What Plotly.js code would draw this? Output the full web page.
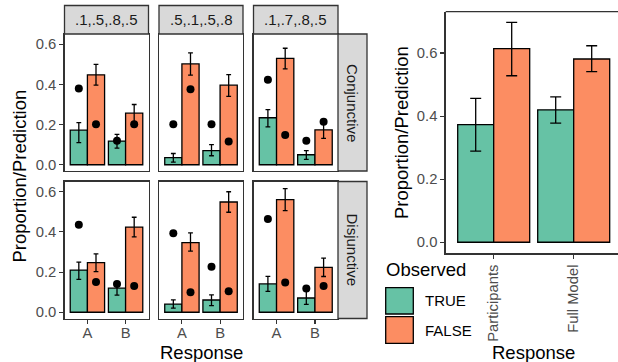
<!DOCTYPE html>
<html>
<head>
<meta charset="utf-8">
<script src="https://cdn.plot.ly/plotly-3.0.1.min.js"></script>
<style>html,body{margin:0;padding:0;background:#fff;}#chart{width:618px;height:362px;}</style>
</head>
<body>
<div id="chart"></div>
<script>
// ---------------- data ----------------
const conditions = ['.1,.5,.8,.5', '.5,.1,.5,.8', '.1,.7,.8,.5'];
const rules = ['Conjunctive', 'Disjunctive'];
const responses = ['A', 'B'];
const observedLevels = ['TRUE', 'FALSE'];

// Conjunctive: per condition [A, B]
const conjTrueMean  = [[0.172, 0.118], [0.036, 0.070], [0.234, 0.050]];
const conjTrueLo    = [[0.110, 0.083], [0.013, 0.045], [0.189, 0.027]];
const conjTrueHi    = [[0.210, 0.151], [0.056, 0.100], [0.275, 0.070]];
const conjTrueModel = [[0.380, 0.119], [0.202, 0.202], [0.423, 0.119]];
const conjFalseMean  = [[0.448, 0.257], [0.502, 0.396], [0.530, 0.174]];
const conjFalseLo    = [[0.396, 0.210], [0.446, 0.340], [0.477, 0.131]];
const conjFalseHi    = [[0.500, 0.300], [0.557, 0.449], [0.580, 0.219]];
const conjFalseModel = [[0.202, 0.202], [0.376, 0.116], [0.148, 0.214]];

// Disjunctive: per condition [A, B]
const disjTrueMean  = [[0.210, 0.120], [0.041, 0.061], [0.141, 0.071]];
const disjTrueLo    = [[0.164, 0.085], [0.021, 0.033], [0.104, 0.039]];
const disjTrueHi    = [[0.250, 0.153], [0.062, 0.087], [0.179, 0.105]];
const disjTrueModel = [[0.436, 0.141], [0.393, 0.227], [0.464, 0.118]];
const disjFalseMean  = [[0.247, 0.424], [0.347, 0.549], [0.561, 0.224]];
const disjFalseLo    = [[0.202, 0.375], [0.304, 0.498], [0.506, 0.178]];
const disjFalseHi    = [[0.291, 0.473], [0.395, 0.600], [0.616, 0.270]];
const disjFalseModel = [[0.151, 0.131], [0.100, 0.105], [0.148, 0.131]];

// Summary panel
const summaryGroups = ['Participants', 'Full Model'];
const summaryTrueMean  = [0.373, 0.420];
const summaryTrueLo    = [0.289, 0.378];
const summaryTrueHi    = [0.456, 0.461];
const summaryFalseMean = [0.614, 0.581];
const summaryFalseLo   = [0.528, 0.541];
const summaryFalseHi   = [0.697, 0.623];

const yTicks = [0, 0.2, 0.4, 0.6];

// ---------------- style / layout helpers ----------------
const W = 618, H = 362;
const FONT = 'Liberation Sans, Arial, sans-serif';
const GREEN = '#66C2A5', ORANGE = '#FC8D62';
const BORDER = '#333333';
const px = v => v / W;
const py = v => 1 - v / H;

const colX = [[64.5, 148.5], [159, 243], [253.5, 338]];
const rowY = [[34, 171], [181.5, 318.5]];
const stripTop = [5.5, 34];
const stripRight = [338, 367];

const traces = [];
const layout = {
  width: W, height: H,
  margin: {l: 0, r: 0, t: 0, b: 0},
  paper_bgcolor: '#fff', plot_bgcolor: '#fff',
  showlegend: false,
  barmode: 'overlay',
  font: {family: FONT, color: '#000'},
  shapes: [], annotations: []
};

const ruleData = [
  {tm: conjTrueMean, tl: conjTrueLo, th: conjTrueHi, tmod: conjTrueModel,
   fm: conjFalseMean, fl: conjFalseLo, fh: conjFalseHi, fmod: conjFalseModel},
  {tm: disjTrueMean, tl: disjTrueLo, th: disjTrueHi, tmod: disjTrueModel,
   fm: disjFalseMean, fl: disjFalseLo, fh: disjFalseHi, fmod: disjFalseModel}
];

const HALF = 0.225, BW = 0.45;

function addBars(xa, ya, pos, mean, lo, hi, color, capW) {
  traces.push({
    type: 'bar', x: pos, y: mean, width: BW, xaxis: xa, yaxis: ya,
    marker: {color: color, line: {color: '#000', width: 1.3}},
    error_y: {type: 'data', symmetric: false,
      array: mean.map((m, i) => hi[i] - m),
      arrayminus: mean.map((m, i) => m - lo[i]),
      color: '#000', thickness: 1.3, width: capW},
    hoverinfo: 'skip'
  });
}

rules.forEach((rule, r) => {
  const d = ruleData[r];
  conditions.forEach((cond, c) => {
    const n = r * 3 + c + 1;
    const xa = n === 1 ? 'x' : 'x' + n;
    const ya = n === 1 ? 'y' : 'y' + n;
    const idx = responses.map((_, i) => i + 1);
    const posT = idx.map(i => i - HALF);
    const posF = idx.map(i => i + HALF);
    addBars(xa, ya, posT, d.tm[c], d.tl[c], d.th[c], GREEN, 2.4);
    addBars(xa, ya, posF, d.fm[c], d.fl[c], d.fh[c], ORANGE, 2.4);
    traces.push({type: 'scatter', mode: 'markers', x: posT.concat(posF),
      y: d.tmod[c].concat(d.fmod[c]), xaxis: xa, yaxis: ya,
      marker: {color: '#000', size: 8}, hoverinfo: 'skip'});

    const bottom = r === 1, left = c === 0;
    layout['xaxis' + (n === 1 ? '' : n)] = {
      domain: [px(colX[c][0]), px(colX[c][1])], anchor: ya,
      range: [0.4, 2.6], showgrid: false, zeroline: false,
      showline: true, mirror: true, linecolor: BORDER, linewidth: 1.3,
      tickvals: idx, ticktext: responses,
      ticks: bottom ? 'outside' : '', ticklen: 4, tickcolor: BORDER, tickwidth: 1.1,
      showticklabels: bottom, ticklabelstandoff: -4,
      tickfont: {family: FONT, size: 14.8, color: '#4D4D4D'}
    };
    layout['yaxis' + (n === 1 ? '' : n)] = {
      domain: [py(rowY[r][1]), py(rowY[r][0])], anchor: xa,
      range: [-0.031, 0.651], showgrid: false, zeroline: false,
      showline: true, mirror: true, linecolor: BORDER, linewidth: 1.3,
      tickvals: yTicks, tickformat: '.1f',
      ticks: left ? 'outside' : '', ticklen: 4, tickcolor: BORDER, tickwidth: 1.1,
      showticklabels: left,
      tickfont: {family: FONT, size: 14.8, color: '#4D4D4D'}
    };
  });
});

// top strips
conditions.forEach((cond, c) => {
  layout.shapes.push({type: 'rect', xref: 'paper', yref: 'paper',
    x0: px(colX[c][0]), x1: px(colX[c][1]), y0: py(stripTop[1]), y1: py(stripTop[0]),
    fillcolor: '#D9D9D9', line: {color: BORDER, width: 1.3}, layer: 'above'});
  layout.annotations.push({xref: 'paper', yref: 'paper',
    x: px((colX[c][0] + colX[c][1]) / 2), y: py((stripTop[0] + stripTop[1]) / 2),
    text: cond, showarrow: false, xanchor: 'center', yanchor: 'middle',
    font: {family: FONT, size: 15, color: '#1A1A1A'}});
});
// right strips
rules.forEach((rule, r) => {
  layout.shapes.push({type: 'rect', xref: 'paper', yref: 'paper',
    x0: px(stripRight[0]), x1: px(stripRight[1]), y0: py(rowY[r][1]), y1: py(rowY[r][0]),
    fillcolor: '#D9D9D9', line: {color: BORDER, width: 1.3}, layer: 'above'});
  layout.annotations.push({xref: 'paper', yref: 'paper',
    x: px((stripRight[0] + stripRight[1]) / 2), y: py((rowY[r][0] + rowY[r][1]) / 2),
    text: rule, showarrow: false, textangle: 90, xanchor: 'center', yanchor: 'middle',
    font: {family: FONT, size: 15, color: '#1A1A1A'}});
});

// summary panel
{
  const idx = summaryGroups.map((_, i) => i + 1);
  addBars('x7', 'y7', idx.map(i => i - HALF), summaryTrueMean, summaryTrueLo, summaryTrueHi, GREEN, 5.5);
  addBars('x7', 'y7', idx.map(i => i + HALF), summaryFalseMean, summaryFalseLo, summaryFalseHi, ORANGE, 5.5);
  const x0 = 445.7;
  layout.xaxis7 = {
    domain: [px(x0), 1], anchor: 'y7',
    range: [0.4, 0.4 + (W - x0) / 80], showgrid: false, zeroline: false,
    showline: true, mirror: false, linecolor: BORDER, linewidth: 1.3,
    tickvals: idx, ticktext: summaryGroups, tickangle: -90,
    ticks: 'outside', ticklen: 4, tickcolor: BORDER, tickwidth: 1.1,
    tickfont: {family: FONT, size: 14.8, color: '#4D4D4D'}
  };
  layout.yaxis7 = {
    domain: [py(253.3), py(11.7)], anchor: 'x7',
    range: [-0.035, 0.731], showgrid: false, zeroline: false,
    showline: true, mirror: false, linecolor: BORDER, linewidth: 1.3,
    tickvals: yTicks, tickformat: '.1f',
    ticks: 'outside', ticklen: 4, tickcolor: BORDER, tickwidth: 1.1,
    tickfont: {family: FONT, size: 14.8, color: '#4D4D4D'}
  };
  // top border of the summary panel (right side is cut off by the image edge)
  layout.shapes.push({type: 'line', xref: 'paper', yref: 'paper',
    x0: px(x0), x1: 1, y0: py(11.7), y1: py(11.7),
    line: {color: BORDER, width: 1.3}});
}

// axis titles
const titleFont = {family: FONT, size: 18.5, color: '#000'};
layout.annotations.push(
  {xref: 'paper', yref: 'paper', x: px(18.5), y: py(176), text: 'Proportion/Prediction',
   textangle: -90, showarrow: false, xanchor: 'center', yanchor: 'middle', font: titleFont},
  {xref: 'paper', yref: 'paper', x: px(201), y: py(352), text: 'Response',
   showarrow: false, xanchor: 'center', yanchor: 'middle', font: titleFont},
  {xref: 'paper', yref: 'paper', x: px(401.5), y: py(132.5), text: 'Proportion/Prediction',
   textangle: -90, showarrow: false, xanchor: 'center', yanchor: 'middle', font: titleFont},
  {xref: 'paper', yref: 'paper', x: px(533.3), y: py(352), text: 'Response',
   showarrow: false, xanchor: 'center', yanchor: 'middle', font: titleFont}
);

// legend (drawn manually, ggplot style)
layout.annotations.push({xref: 'paper', yref: 'paper', x: px(384), y: py(269.3), text: 'Observed',
  showarrow: false, xanchor: 'left', yanchor: 'middle', font: titleFont});
const keyBoxes = [[287.7, 314], [316.7, 343.3]];
[GREEN, ORANGE].forEach((col, i) => {
  layout.shapes.push({type: 'rect', xref: 'paper', yref: 'paper',
    x0: px(385.7), x1: px(413.3), y0: py(keyBoxes[i][1]), y1: py(keyBoxes[i][0]),
    fillcolor: col, line: {color: '#000', width: 1.3}});
  layout.annotations.push({xref: 'paper', yref: 'paper', x: px(422.5),
    y: py((keyBoxes[i][0] + keyBoxes[i][1]) / 2), text: observedLevels[i],
    showarrow: false, xanchor: 'left', yanchor: 'middle',
    font: {family: FONT, size: 15, color: '#000'}});
});

Plotly.newPlot('chart', traces, layout, {displayModeBar: false, staticPlot: true});
</script>
</body>
</html>
